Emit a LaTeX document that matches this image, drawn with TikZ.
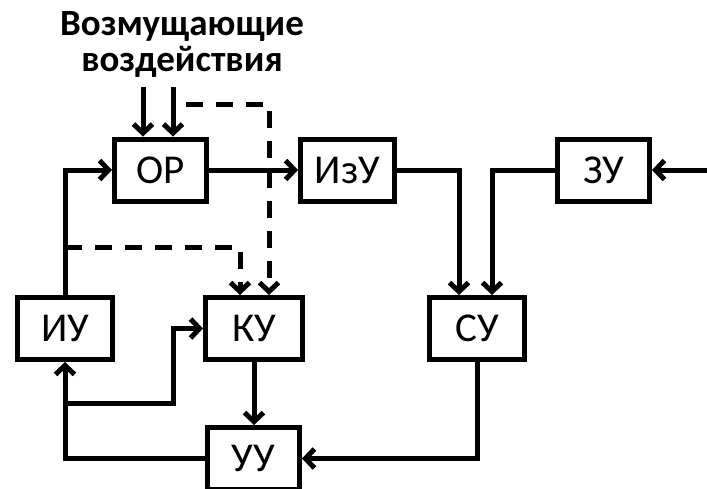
\documentclass[tikz,border=0pt]{standalone}
\usepackage{fontspec}
\setmainfont{Carlito}
\usetikzlibrary{arrows.meta}
\tikzset{
  blok/.style={draw, line width=5pt, minimum width=92pt, minimum height=62pt,
    inner sep=0pt, font=\fontsize{41}{41}\selectfont},
  sv/.style={line width=5pt, -{Straight Barb[length=9pt,width=19pt]}},
  pr/.style={sv, dash pattern=on 17pt off 13pt},
}
\begin{document}
\begin{tikzpicture}[x=1pt,y=-1pt]
\useasboundingbox (0,0) rectangle (707,488);
\node[font=\bfseries\fontsize{37}{36}\selectfont, align=center] (vozd) at (182,44) {Возмущающие\\воздействия};

\node[blok] (OR) at (160.5,170) {ОР};
\node[blok, minimum width=94pt] (IzU) at (347.5,170) {ИзУ};
\node[blok] (ZU) at (603.5,170) {ЗУ};
\node[blok, minimum width=95pt] (IU) at (65,328.5) {ИУ};
\node[blok, minimum width=97pt] (KU) at (254,328.5) {КУ};
\node[blok, minimum width=95pt] (SU) at (477,328.5) {СУ};
\node[blok] (UU) at (253.5,458.5) {УУ};

\coordinate (v1) at (143,87);
\coordinate (v2) at (173,87);
\coordinate (k1) at (173,403);
\coordinate (vkh) at (712,170);

\draw[sv] (v1) -- (v1 |- OR.north);
\draw[sv] (v2) -- (v2 |- OR.north);
\draw[pr, dash phase=17pt] (v2 |- 0,104) -| ([xshift=15pt]KU.north);
\draw[pr] (IU.north |- 0,247) -| ([xshift=-14pt]KU.north);
\draw[sv] (IU.north) |- (OR.west);
\draw[sv] (OR.east) -- (IzU.west);
\draw[sv] (IzU.east) -| ([xshift=-18pt]SU.north);
\draw[sv] (ZU.west) -| ([xshift=15pt]SU.north);
\draw[sv] (vkh) -- (ZU.east);
\draw[sv] (KU.south) -- (KU.south |- UU.north);
\draw[sv] (SU.south) |- (UU.east);
\draw[sv] (UU.west) -| (IU.south);
\draw[sv] (IU.south |- k1) -- (k1) |- (KU.west);

\end{tikzpicture}
\end{document}
